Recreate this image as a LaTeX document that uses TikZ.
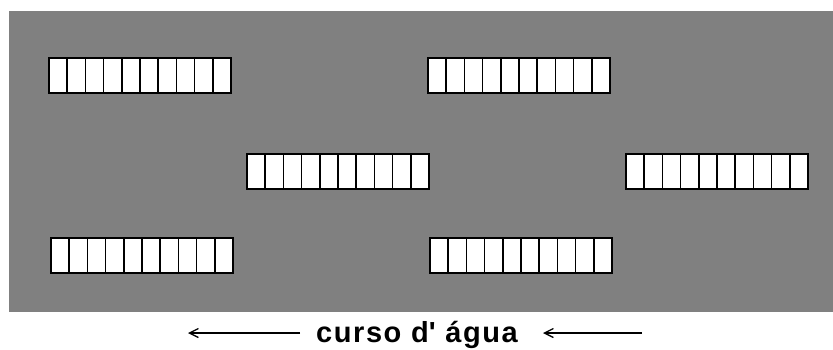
\documentclass[tikz,border=0pt]{standalone}
\usepackage{fontspec}
\setmainfont{Liberation Sans}
\newfontfamily\legenda[LetterSpace=5.5]{Liberation Sans}
\usetikzlibrary{arrows.meta,positioning}
\definecolor{fundo}{RGB}{128,128,128}

\begin{document}
\begin{tikzpicture}[x=1pt,y=-1pt,
  celula/.style={draw=black,line width=1.7pt,fill=white},
  seta/.style={line width=1.3pt,-{Straight Barb[length=9pt,width=9pt]}}]
\useasboundingbox (0,0) rectangle (833,349);
% area cinzenta
\fill[fundo] (9,11) rectangle (833,312);
% blocos de 10 celulas
\foreach \nome/\x/\y in {b1/49/58, b2/428/58, b3/247/154, b4/626/154, b5/51/238, b6/430/238}{
  \coordinate (\nome) at (\x,\y);
  \foreach \i in {0,...,9}
    \draw[celula] (\x+\i*18.2,\y) rectangle ++(18.2,35);
}
% legenda
\node[font=\legenda\bfseries\fontsize{29}{29}\selectfont,inner sep=0pt] (rotulo) at (417,335) {curso d\textquotesingle\ água};
\coordinate (s1a) at (300,333);
\coordinate (s1b) at (188,333);
\coordinate (s2a) at (642,333);
\coordinate (s2b) at (543,333);
\draw[seta] (s1a) -- (s1b);
\draw[seta] (s2a) -- (s2b);
\end{tikzpicture}
\end{document}
